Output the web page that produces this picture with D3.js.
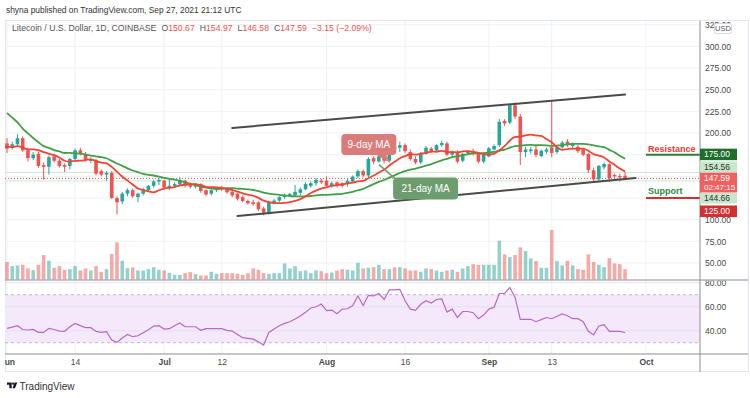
<!DOCTYPE html>
<html>
<head>
<meta charset="utf-8">
<script src="https://cdn.jsdelivr.net/npm/d3@7"></script>
<style>
  body { margin: 0; background: #fff; }
  svg { display: block; font-family: "Liberation Sans", Arial, sans-serif; }
</style>
</head>
<body>
<div id="chart"></div>
<script>
// LTC/USD daily, Jun 1 - Sep 27 2021
const firstDay = "2021-06-01";
const opens = [188,183,187,194,180,171,176,163,161,173, 168,163,162,170,180,176,168,169,156,152,
  154,125,121,130,134,126,130,134,139,144, 145,137,139,141,145,141,138,141,134,130,
  134,137,135,132,130,126,121.5,120,120,113, 107,120,122,126,128,128,131,135,139,142,
  145,145,139,143,142,141,144,150,156,151, 171,167,173,168,184,183,186,178,170,166,
  176,182,180,186,188,175,178,168,176.5,179, 176.5,167,173,181,186,214,212,232,219,178,
  179,181,173.4,178.4,183.5,178,183.5,190,185,184, 181,175.8,157,146.5,160.4,164,151.5,150.3,150.67];
const highs = [194,190,198.5,196,183,178,178,166,174,176, 170,165,171,182,183,178,172,170,158,156,
  156,127,132,136,136,131,137,140,146,148, 146,147,143,149,146,143,142,142,135,135,
  138,139,136,135,131,128,123,123,121,115, 122,124,127,130,131,140,137,143,144,148,
  147,150,144,144,143,147,151,158,158,172, 173,175,175,187,189,190,188,181,173,178,
  185,184,187,191,190,180,180,177,180,182, 178,176,184,187,216,216,234,235,222,184,
  184,186,181,183,238,185,191,193,189,186, 183,177,160,163,166,165,153,153,154.97];
const lows = [177,181,185,178,167,169,160,146,152,166, 160,155,158,168,174,167,165,151,150,145,
  124,106,118,127,125,120,128,132,137,140, 135,134,137,139,137,136,136,131,127,128,
  132,133,130,126,122,120,117,116,110,105, 106,118,120,124,126,127,128,134,137,139,
  141,137,137,137,137,138,142,148,149,148, 164,166,165,167,180,178,177,168,164,164,
  175,177,177,184,173,172,165,166,175,174, 165,165,172,180,184,208,210,216,163,172,
  176,172,172,176,172,176,182,184,181,177, 173,154,144,145,158,143.8,147,144,146.58];
const closes = [182,187,194,180,171,175,162,161,172,168, 162,161,170,180,176,169,169,153,152,154,
  125,120,130,134,127,130,135,139,144,146, 137,139,141,145,139,138,140,133,129,134,
  137,135,131.5,128,124,121.5,119,118,112,108, 120,122,126,128.5,129.5,132,135,141,142,146,
  143,139,142,139,139,144.6,149.6,156,151,170, 167,173,168,184,182.5,186,179,170,166,176,
  183,179,186,188.5,175,178.5,167,176,178.4,176.5, 167,174.6,182.3,185,213,211,232,219,178,181,
  181,174.6,179.5,181,177,183.5,189,186,187,179, 175,157.3,146.5,162,164.2,148,150,148.8,147.59];
// volume, thousand LTC (approx.)
const volumes = [52,40,42,44,33,28,44,73,56,35, 40,29,31,40,27,33,27,40,23,31,
  76,111,56,34,36,27,27,31,37,29, 27,20,14,14,19,22,16,12,12,23,
  17,19,19,19,17,14,19,33,29,19, 17,19,19,48,33,40,25,27,19,27,
  25,19,21,27,31,29,27,50,33,35, 37,44,31,31,36,37,33,27,27,23,
  33,31,27,23,27,29,23,33,40,46, 44,44,44,44,116,75,67,73,96,85,
  63,55,35,35,148,55,42,56,42,31, 29,75,52,44,37,64,48,46,31];
const rsiValues = [42,43,44.2,41,40.6,41.1,38.6,38.6,42,41, 39.7,39.5,43.3,46.1,44.2,42.5,42.5,39.4,38.6,39.2,
  32.2,30.3,33.9,36.9,35,35.8,38.3,40.8,43.9,44.2, 41.4,41.7,44.2,46.4,43.3,43.3,43.3,40.3,41.7,41.7,
  41.7,41.7,40.3,39.7,36.9,34.2,33.6,33,30.8,28.1, 38.6,41.4,44.2,46.1,47.5,49.7,52.2,55.3,58.9,60,
  62.2,56.7,57.2,54.2,58,58.3,61,69,61,69.5, 69,71,66,74,74,74.5,65,58,57,62,
  65,63,66,66.5,55.5,58,51,56,56,55, 50,53,58,59.5,71,71,76,67.8,49.4,49.5,
  49.5,47.5,49.2,51,50,52,54,52.5,50,50, 47.5,39.5,36.5,44,45,39.5,39.5,39.5,38.5];
// closes May 12 - May 31, only used to start the moving averages
const warmupCloses = [300,310,330,290,285,265,255,215,220,195,200,165,190,185,195,190,175,170,180,190];

const priceTicks = [50,75,100,125,150,175,200,225,250,275,300,325];
const rsiTicks = [40,60,80];
const timeTicks = ["2021-06-01","2021-06-14","2021-07-01","2021-07-12","2021-08-01","2021-08-16","2021-09-01","2021-09-13","2021-10-01"];
const timeLabels = ["Jun","14","Jul","12","Aug","16","Sep","13","Oct"];
const channelUpper = [["2021-07-14", 205.8], ["2021-09-27", 244.5]];
const channelLower = [["2021-07-15", 104.2], ["2021-09-29", 148]];
const resistance = 175, support = 125;
const lastPrice = 147.59, bandHigh = 154.56, bandLow = 144.66;

const W = 750, H = 398;
const left = 5, right = 700, mainTop = 21, mainBottom = 280, rsiTop = 281, rsiBottom = 354;
const up = "#26a69a", down = "#ef5350";

const parse = d3.utcParse("%Y-%m-%d");
const day0 = parse(firstDay);
const dayAt = i => d3.utcDay.offset(day0, i);

const candles = closes.map((c, i) => ({
  date: dayAt(i), o: opens[i], h: highs[i], l: lows[i], c: c, v: volumes[i], rsi: rsiValues[i]
}));

const allCloses = warmupCloses.concat(closes);
function movingAverage(n) {
  const out = [];
  for (let i = n - 1; i < allCloses.length; i++) {
    out.push({ date: dayAt(i - warmupCloses.length), value: d3.mean(allCloses.slice(i - n + 1, i + 1)) });
  }
  return out;
}
const ma9 = movingAverage(9), ma21 = movingAverage(21);

const x = d3.scaleUtc().domain([day0, parse("2021-10-01")]).range([7, 646]);
const y = d3.scaleLinear().domain([30.3, 329.3]).range([mainBottom, mainTop]);
const yVol = d3.scaleLinear().domain([0, 148]).range([279.5, 230]);
const yRsi = d3.scaleLinear().domain([20.6, 82.25]).range([rsiBottom, 280]);

const svg = d3.select("#chart").append("svg").attr("width", W).attr("height", H);
svg.append("rect").attr("width", W).attr("height", H).attr("fill", "#fff");

const defs = svg.append("defs");
function clip(id, x0, y0, w, h) {
  defs.append("clipPath").attr("id", id).append("rect").attr("x", x0).attr("y", y0).attr("width", w).attr("height", h);
}
clip("cMain", left, mainTop, right - left, mainBottom - mainTop);
clip("cRsi", left, 280.5, right - left, rsiBottom - 280.5);
clip("cTime", left, rsiBottom, right - left, 20);
clip("cAxMain", right, mainTop, 50, mainBottom - mainTop);
clip("cAxRsi", right, 280.5, 50, rsiBottom - 280.5);

// header
const header = svg.append("text").attr("x", 6).attr("y", 13).attr("font-size", 9).attr("fill", "#333")
  .text("shyna published on TradingView.com, Sep 27, 2021 21:12 UTC");

// frame
svg.append("rect").attr("x", left + 0.5).attr("y", mainTop - 0.5).attr("width", W - left - 2).attr("height", 372 - mainTop)
  .attr("fill", "none").attr("stroke", "#e3e6ec");

// grid
const grid = svg.append("g");
timeTicks.forEach(t => {
  grid.append("line").attr("x1", x(parse(t))).attr("x2", x(parse(t))).attr("y1", mainTop).attr("y2", rsiBottom)
    .attr("stroke", "#eef1f6");
});
priceTicks.forEach(p => {
  grid.append("line").attr("x1", left).attr("x2", right).attr("y1", y(p)).attr("y2", y(p)).attr("stroke", "#eef1f6");
});

// main pane
const main = svg.append("g").attr("clip-path", "url(#cMain)");

main.selectAll(".vol").data(candles).enter().append("rect")
  .attr("x", d => x(d.date) - 1.8).attr("width", 3.6)
  .attr("y", d => yVol(d.v)).attr("height", d => yVol(0) - yVol(d.v))
  .attr("fill", d => d.c >= d.o ? up : down).attr("fill-opacity", 0.5);

[bandHigh, bandLow].forEach(p => {
  main.append("line").attr("x1", left).attr("x2", right).attr("y1", y(p)).attr("y2", y(p))
    .attr("stroke", "#cfe6cf").attr("stroke-width", 1);
});
main.append("line").attr("x1", left).attr("x2", right).attr("y1", y(lastPrice)).attr("y2", y(lastPrice))
  .attr("stroke", down).attr("stroke-dasharray", "1,2");

main.selectAll(".wick").data(candles).enter().append("line")
  .attr("x1", d => x(d.date)).attr("x2", d => x(d.date))
  .attr("y1", d => y(d.h)).attr("y2", d => y(d.l))
  .attr("stroke", d => d.c >= d.o ? up : down).attr("stroke-width", 1);
main.selectAll(".body").data(candles).enter().append("rect")
  .attr("x", d => x(d.date) - 1.8).attr("width", 3.6)
  .attr("y", d => y(Math.max(d.o, d.c)))
  .attr("height", d => Math.max(1, Math.abs(y(d.o) - y(d.c))))
  .attr("fill", d => d.c >= d.o ? up : down);

const maLine = d3.line().x(d => x(d.date)).y(d => y(d.value)).curve(d3.curveMonotoneX);
main.append("path").datum(ma21).attr("d", maLine).attr("fill", "none").attr("stroke", "#43a047").attr("stroke-width", 1.8);
main.append("path").datum(ma9).attr("d", maLine).attr("fill", "none").attr("stroke", "#f44336").attr("stroke-width", 1.8);

[channelUpper, channelLower].forEach(ch => {
  main.append("line")
    .attr("x1", x(parse(ch[0][0]))).attr("y1", y(ch[0][1]))
    .attr("x2", x(parse(ch[1][0]))).attr("y2", y(ch[1][1]))
    .attr("stroke", "#4a4a4a").attr("stroke-width", 2).attr("stroke-linecap", "round");
});

// callouts
const tip9 = [parse("2021-08-13"), 165.4];
const tip21 = [parse("2021-08-12"), 163.5];
{
  const tx = x(tip9[0]) + 1, ty = y(tip9[1]);
  main.append("path").attr("d", `M${tx - 14},${ty - 8} L${tx - 4},${ty - 8} L${tx},${ty} Z`).attr("fill", "#d97c7a");
  main.append("rect").attr("x", tx - 49).attr("y", ty - 29).attr("width", 55).attr("height", 21).attr("rx", 4)
    .attr("fill", "#d97c7a");
  main.append("text").attr("x", tx - 21.5).attr("y", ty - 15).attr("text-anchor", "middle")
    .attr("font-size", 10).attr("fill", "#fff").text("9-day MA");
}
{
  const tx = x(tip21[0]) - 5, ty = y(tip21[1]);
  main.append("line").attr("x1", tx).attr("y1", ty).attr("x2", tx + 17).attr("y2", ty + 15)
    .attr("stroke", "#6d9c6e").attr("stroke-width", 1.5);
  main.append("rect").attr("x", tx + 14).attr("y", ty + 13).attr("width", 65).attr("height", 22).attr("rx", 4)
    .attr("fill", "#6d9c6e");
  main.append("text").attr("x", tx + 46.5).attr("y", ty + 27.5).attr("text-anchor", "middle")
    .attr("font-size", 10).attr("fill", "#fff").text("21-day MA");
}

// resistance / support
const xOct = x(parse("2021-10-01"));
main.append("line").attr("x1", xOct).attr("x2", right).attr("y1", y(resistance)).attr("y2", y(resistance))
  .attr("stroke", "#2e7d32").attr("stroke-width", 2);
main.append("text").attr("x", xOct + 2).attr("y", y(resistance) - 3).attr("font-size", 9).attr("font-weight", "bold")
  .attr("fill", "#e53935").text("Resistance");
main.append("line").attr("x1", xOct).attr("x2", right).attr("y1", y(support)).attr("y2", y(support))
  .attr("stroke", "#d32f2f").attr("stroke-width", 2);
main.append("text").attr("x", xOct + 2).attr("y", y(support) - 4).attr("font-size", 9).attr("font-weight", "bold")
  .attr("fill", "#2e8b3a").text("Support");

// legend line
const legend = svg.append("text").attr("x", 12).attr("y", 31).attr("font-size", 9).attr("fill", "#555");
legend.append("tspan").text("Litecoin / U.S. Dollar, 1D, COINBASE");
[["O", "150.67"], ["H", "154.97"], ["L", "146.58"], ["C", "147.59"]].forEach(([k, v]) => {
  legend.append("tspan").attr("dx", 5).text(k);
  legend.append("tspan").attr("fill", down).text(v);
});
legend.append("tspan").attr("dx", 5).attr("fill", down).text("\u22123.15 (\u22122.09%)");

// RSI pane
const rsiG = svg.append("g").attr("clip-path", "url(#cRsi)");
rsiG.append("rect").attr("x", left).attr("width", right - left).attr("y", yRsi(70)).attr("height", yRsi(30) - yRsi(70))
  .attr("fill", "#f4e8fb");
rsiTicks.forEach(v => {
  rsiG.append("line").attr("x1", left).attr("x2", right).attr("y1", yRsi(v)).attr("y2", yRsi(v)).attr("stroke", "#e6e0ee");
});
[70, 30].forEach(v => {
  rsiG.append("line").attr("x1", left).attr("x2", right).attr("y1", yRsi(v)).attr("y2", yRsi(v))
    .attr("stroke", "#c2b6cc").attr("stroke-dasharray", "3,3");
});
rsiG.append("path").datum(candles)
  .attr("d", d3.line().x(d => x(d.date)).y(d => yRsi(d.rsi)))
  .attr("fill", "none").attr("stroke", "#b968c9").attr("stroke-width", 1.2);

// axes
function styleAxis(g) {
  g.select(".domain").remove();
  g.attr("font-family", "'Liberation Sans', Arial, sans-serif").attr("font-size", 8.5);
  g.selectAll("text").attr("fill", "#4a4a4a");
}
svg.append("g").attr("clip-path", "url(#cAxMain)").append("g").attr("transform", `translate(${right},0)`)
  .call(d3.axisRight(y).tickValues(priceTicks).tickSize(0).tickPadding(5).tickFormat(d3.format(".2f")))
  .call(styleAxis);
svg.append("g").attr("clip-path", "url(#cAxRsi)").append("g").attr("transform", `translate(${right},0)`)
  .call(d3.axisRight(yRsi).tickValues(rsiTicks).tickSize(0).tickPadding(5).tickFormat(d3.format(".2f")))
  .call(styleAxis);
const tAxis = svg.append("g").attr("clip-path", "url(#cTime)").append("g").attr("transform", `translate(0,${rsiBottom})`)
  .call(d3.axisBottom(x).tickValues(timeTicks.map(parse)).tickSize(0).tickPadding(5)
    .tickFormat((d, i) => timeLabels[i]))
  .call(styleAxis);
tAxis.selectAll("text").attr("font-weight", (d, i) => isNaN(+timeLabels[i]) ? "bold" : "normal");

// separators
svg.append("line").attr("x1", left).attr("x2", W - 2).attr("y1", 280).attr("y2", 280).attr("stroke", "#8a8d94");
svg.append("line").attr("x1", left).attr("x2", W - 2).attr("y1", rsiBottom).attr("y2", rsiBottom).attr("stroke", "#8a8d94");
svg.append("line").attr("x1", right).attr("x2", right).attr("y1", mainTop).attr("y2", 372).attr("stroke", "#8a8d94");

// price labels on the axis
function axisLabel(top, h, fill, color, lines) {
  svg.append("rect").attr("x", right).attr("y", top).attr("width", 37).attr("height", h).attr("fill", fill);
  lines.forEach((t, i) => {
    svg.append("text").attr("x", right + 4).attr("y", top + 8.3 + i * 9.5).attr("font-size", i ? 8 : 8.5)
      .attr("fill", color).text(t);
  });
}
axisLabel(y(resistance) - 6, 11.5, "#1f6e2b", "#fff", [d3.format(".2f")(resistance)]);
axisLabel(161.5, 10.5, "#c8e6c9", "#333", [d3.format(".2f")(bandHigh)]);
axisLabel(172.5, 20, "#f06060", "#fff", [d3.format(".2f")(lastPrice), "02:47:15"]);
axisLabel(193, 10.5, "#c8e6c9", "#333", [d3.format(".2f")(bandLow)]);
axisLabel(205.5, 11.5, "#d32f2f", "#fff", [d3.format(".2f")(support)]);

// USD badge
svg.append("rect").attr("x", 714.5).attr("y", 23.5).attr("width", 17).attr("height", 10).attr("rx", 2)
  .attr("fill", "#fff").attr("stroke", "#d5d8de");
svg.append("text").attr("x", 723).attr("y", 31.3).attr("text-anchor", "middle").attr("font-size", 7.5)
  .attr("fill", "#555").text("USD");

// footer logo
const logo = svg.append("g").attr("transform", "translate(7,382.5) scale(0.72)").attr("fill", "#131722");
logo.append("path").attr("d", "M0,0 h6.5 v8 h-3.2 v-4.8 h-3.3 z");
logo.append("circle").attr("cx", 8.6).attr("cy", 1.6).attr("r", 1.6);
logo.append("path").attr("d", "M10.8,0 L14.3,0 L11,8 L7.6,8 Z");
svg.append("text").attr("x", 19.5).attr("y", 389.5).attr("font-size", 10).attr("fill", "#333").text("TradingView");

// fit the two top text lines to their widths in the picture
function fit(sel, width) {
  const len = sel.node().getComputedTextLength();
  const fs = parseFloat(sel.attr("font-size"));
  sel.attr("font-size", fs * width / len);
}
fit(header, 236);
fit(legend, 335);
</script>
</body>
</html>
